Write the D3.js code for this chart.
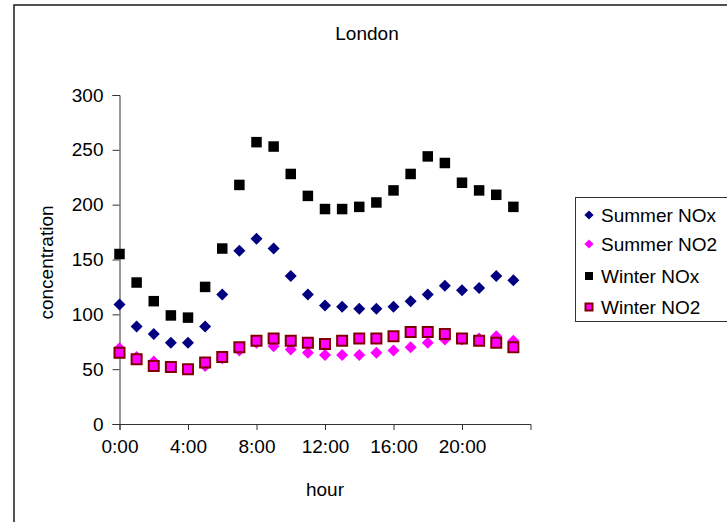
<!DOCTYPE html>
<html>
<head>
<meta charset="utf-8">
<script src="https://cdn.jsdelivr.net/npm/d3@7"></script>
<style>
  body { margin: 0; background: #fff; }
  svg text { font-family: "Liberation Sans", Arial, sans-serif; fill: #000; }
</style>
</head>
<body>
<div id="svganchor"></div>
<script>
let width = 727;
let height = 522;

// hour of day
let hours = [0, 1, 2, 3, 4, 5, 6, 7, 8, 9, 10, 11, 12, 13, 14, 15, 16, 17, 18, 19, 20, 21, 22, 23];
let hourTicks = [0, 4, 8, 12, 16, 20];
let yTicks = [0, 50, 100, 150, 200, 250, 300];

let summerNOx = [109, 89, 82, 74, 74, 89, 118, 158, 169, 160, 135, 118, 108, 107, 105, 105, 107, 112, 118, 126, 122, 124, 135, 131];
let summerNO2 = [69, 61, 57, 52, 50, 53, 60, 67, 74, 71, 68, 65, 63, 63, 63, 65, 67, 70, 74, 77, 77, 78, 80, 76];
let winterNOx = [155, 129, 112, 99, 97, 125, 160, 218, 257, 253, 228, 208, 196, 196, 198, 202, 213, 228, 244, 238, 220, 213, 209, 198];
let winterNO2 = [65, 59, 53, 52, 50, 56, 61, 70, 76, 78, 76, 74, 73, 76, 78, 78, 80, 84, 84, 82, 78, 76, 74, 70];

let seriesNames = ["Summer NOx", "Summer NO2", "Winter NOx", "Winter NO2"];

let series = [
  { name: seriesNames[0], values: summerNOx, shape: "diamond", fill: "#000080", stroke: "none", size: 8.5 },
  { name: seriesNames[1], values: summerNO2, shape: "diamond", fill: "#FF00FF", stroke: "none", size: 8.5 },
  { name: seriesNames[2], values: winterNOx, shape: "square", fill: "#000000", stroke: "none", size: 10.5 },
  { name: seriesNames[3], values: winterNO2, shape: "square", fill: "#FF00FF", stroke: "#800000", size: 10 }
];

let plot = { left: 119.5, right: 530.5, top: 95, bottom: 424 };

let svg = d3.select("#svganchor").append("svg").attr("width", width).attr("height", height);

// chart border (runs off the right and bottom edge)
svg.append("rect")
  .attr("x", 14).attr("y", 5)
  .attr("width", 760).attr("height", 560)
  .attr("fill", "none")
  .attr("stroke", "#1a1a1a")
  .attr("stroke-width", 1.5);

let xScale = d3.scaleLinear().domain([0, 24]).range([plot.left, plot.right]);
let yScale = d3.scaleLinear().domain([0, 300]).range([plot.bottom, plot.top]);

let xAxis = d3.axisBottom(xScale)
  .tickValues(hourTicks)
  .tickSize(6)
  .tickPadding(5)
  .tickFormat(d => d + ":00");

let yAxis = d3.axisLeft(yScale)
  .tickValues(yTicks)
  .tickSize(7)
  .tickPadding(9);

let gx = svg.append("g")
  .attr("class", "x axis")
  .attr("transform", "translate(0," + plot.bottom + ")")
  .call(xAxis);

let gy = svg.append("g")
  .attr("class", "y axis")
  .attr("transform", "translate(" + plot.left + ",0)")
  .call(yAxis);

svg.selectAll(".axis path, .axis line").attr("stroke", "#333");
svg.selectAll(".axis text")
  .attr("font-size", "19px")
  .style("font-family", "'Liberation Sans', Arial, sans-serif");
gx.selectAll("text").attr("dy", "0.95em");

// titles
svg.append("text")
  .attr("x", 367).attr("y", 40)
  .attr("text-anchor", "middle")
  .attr("font-size", "19px")
  .text("London");

svg.append("text")
  .attr("x", 325).attr("y", 496)
  .attr("text-anchor", "middle")
  .attr("font-size", "19px")
  .text("hour");

svg.append("text")
  .attr("transform", "translate(53," + ((plot.top + plot.bottom) / 2 + 3) + ") rotate(-90)")
  .attr("text-anchor", "middle")
  .attr("font-size", "19px")
  .text("concentration");

function markerPath(size) {
  return d3.symbol().type(d3.symbolSquare).size(size * size)();
}

function placeMarker(s, x, y) {
  return "translate(" + x + "," + y + ")" + (s.shape === "diamond" ? " rotate(45)" : "");
}

// data points, drawn in series order so Winter NO2 sits on top
series.forEach(function (s) {
  let g = svg.append("g").attr("class", "series");
  g.selectAll("path")
    .data(s.values)
    .enter()
    .append("path")
    .attr("d", markerPath(s.size))
    .attr("fill", s.fill)
    .attr("stroke", s.stroke)
    .attr("stroke-width", s.stroke === "none" ? 0 : 2)
    .attr("transform", function (d, i) {
      return placeMarker(s, xScale(hours[i]), yScale(d));
    });
});

// legend
let legend = svg.append("g").attr("class", "legend");
legend.append("rect")
  .attr("x", 575.5).attr("y", 197.5)
  .attr("width", 200).attr("height", 124)
  .attr("fill", "#fff")
  .attr("stroke", "#333")
  .attr("stroke-width", 1);

let legendY = [215, 244, 276, 307];
series.forEach(function (s, i) {
  let sz = s.shape === "diamond" ? 6.5 : (s.stroke === "none" ? 8 : 7);
  legend.append("path")
    .attr("d", markerPath(sz))
    .attr("fill", s.fill)
    .attr("stroke", s.stroke)
    .attr("stroke-width", s.stroke === "none" ? 0 : 2)
    .attr("transform", placeMarker(s, 589, legendY[i]));
  legend.append("text")
    .attr("x", 601)
    .attr("y", legendY[i])
    .attr("dy", "0.36em")
    .attr("font-size", "19px")
    .text(s.name);
});
</script>
</body>
</html>
